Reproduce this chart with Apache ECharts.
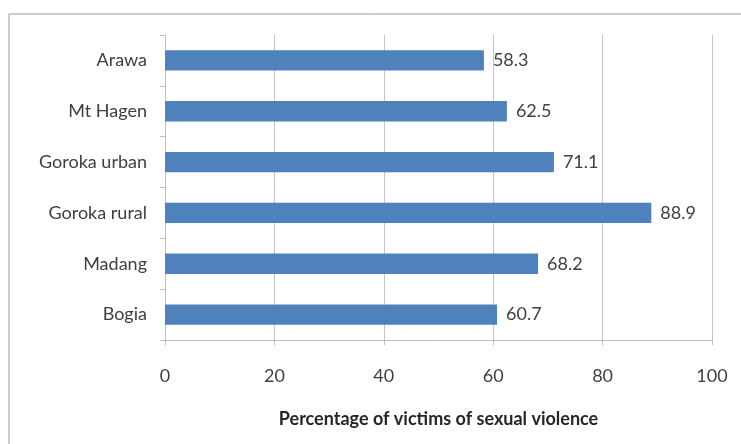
<!DOCTYPE html>
<html><head><meta charset="utf-8">
<script src="https://cdn.jsdelivr.net/npm/echarts@6/dist/echarts.min.js"></script>
<style>html,body{margin:0;padding:0;background:#fff}#c{width:741px;height:444px}</style>
</head><body><div id="c"></div>
<script>
const categories = ["Bogia", "Madang", "Goroka rural", "Goroka urban", "Mt Hagen", "Arawa"];
const values = [60.7, 68.2, 88.9, 71.1, 62.5, 58.3];
const xTicks = [0, 20, 40, 60, 80, 100];
const xTitle = "Percentage of victims of sexual violence";

const chart = echarts.init(document.getElementById('c'), null, {renderer: 'canvas'});
const font = 'Lato, "Open Sans", sans-serif';
chart.setOption({
  animation: false,
  graphic: [{
    type: 'rect', shape: {x: 9, y: 14, width: 800, height: 500},
    style: {fill: 'none', stroke: '#9a9a9a', lineWidth: 1}, silent: true, z: -1
  }],
  grid: {left: 165, right: 29, top: 35, bottom: 104},
  xAxis: {
    type: 'value', min: xTicks[0], max: xTicks[xTicks.length - 1], interval: 20,
    name: xTitle, nameLocation: 'middle', nameGap: 70,
    nameTextStyle: {fontFamily: font, fontSize: 18, fontWeight: 'bold', color: '#262626'},
    axisLine: {show: true, lineStyle: {color: '#bdbdbd'}},
    axisTick: {show: true, length: 5, lineStyle: {color: '#bdbdbd'}},
    axisLabel: {fontFamily: font, fontSize: 18, color: '#404040', margin: 27},
    splitLine: {show: true, lineStyle: {color: '#c4c4c4', width: 1}}
  },
  yAxis: {
    type: 'category', data: categories,
    axisLine: {show: true, lineStyle: {color: '#bdbdbd'}},
    axisTick: {show: true, length: 5, lineStyle: {color: '#bdbdbd'}},
    axisLabel: {fontFamily: font, fontSize: 18, color: '#404040', margin: 18}
  },
  series: [{
    type: 'bar', data: values, barWidth: '40%',
    itemStyle: {color: '#4f81bd'},
    label: {show: true, position: 'right', distance: 9, fontFamily: font, fontSize: 18, color: '#404040',
      formatter: p => p.value.toFixed(1)}
  }]
});
</script></body></html>
